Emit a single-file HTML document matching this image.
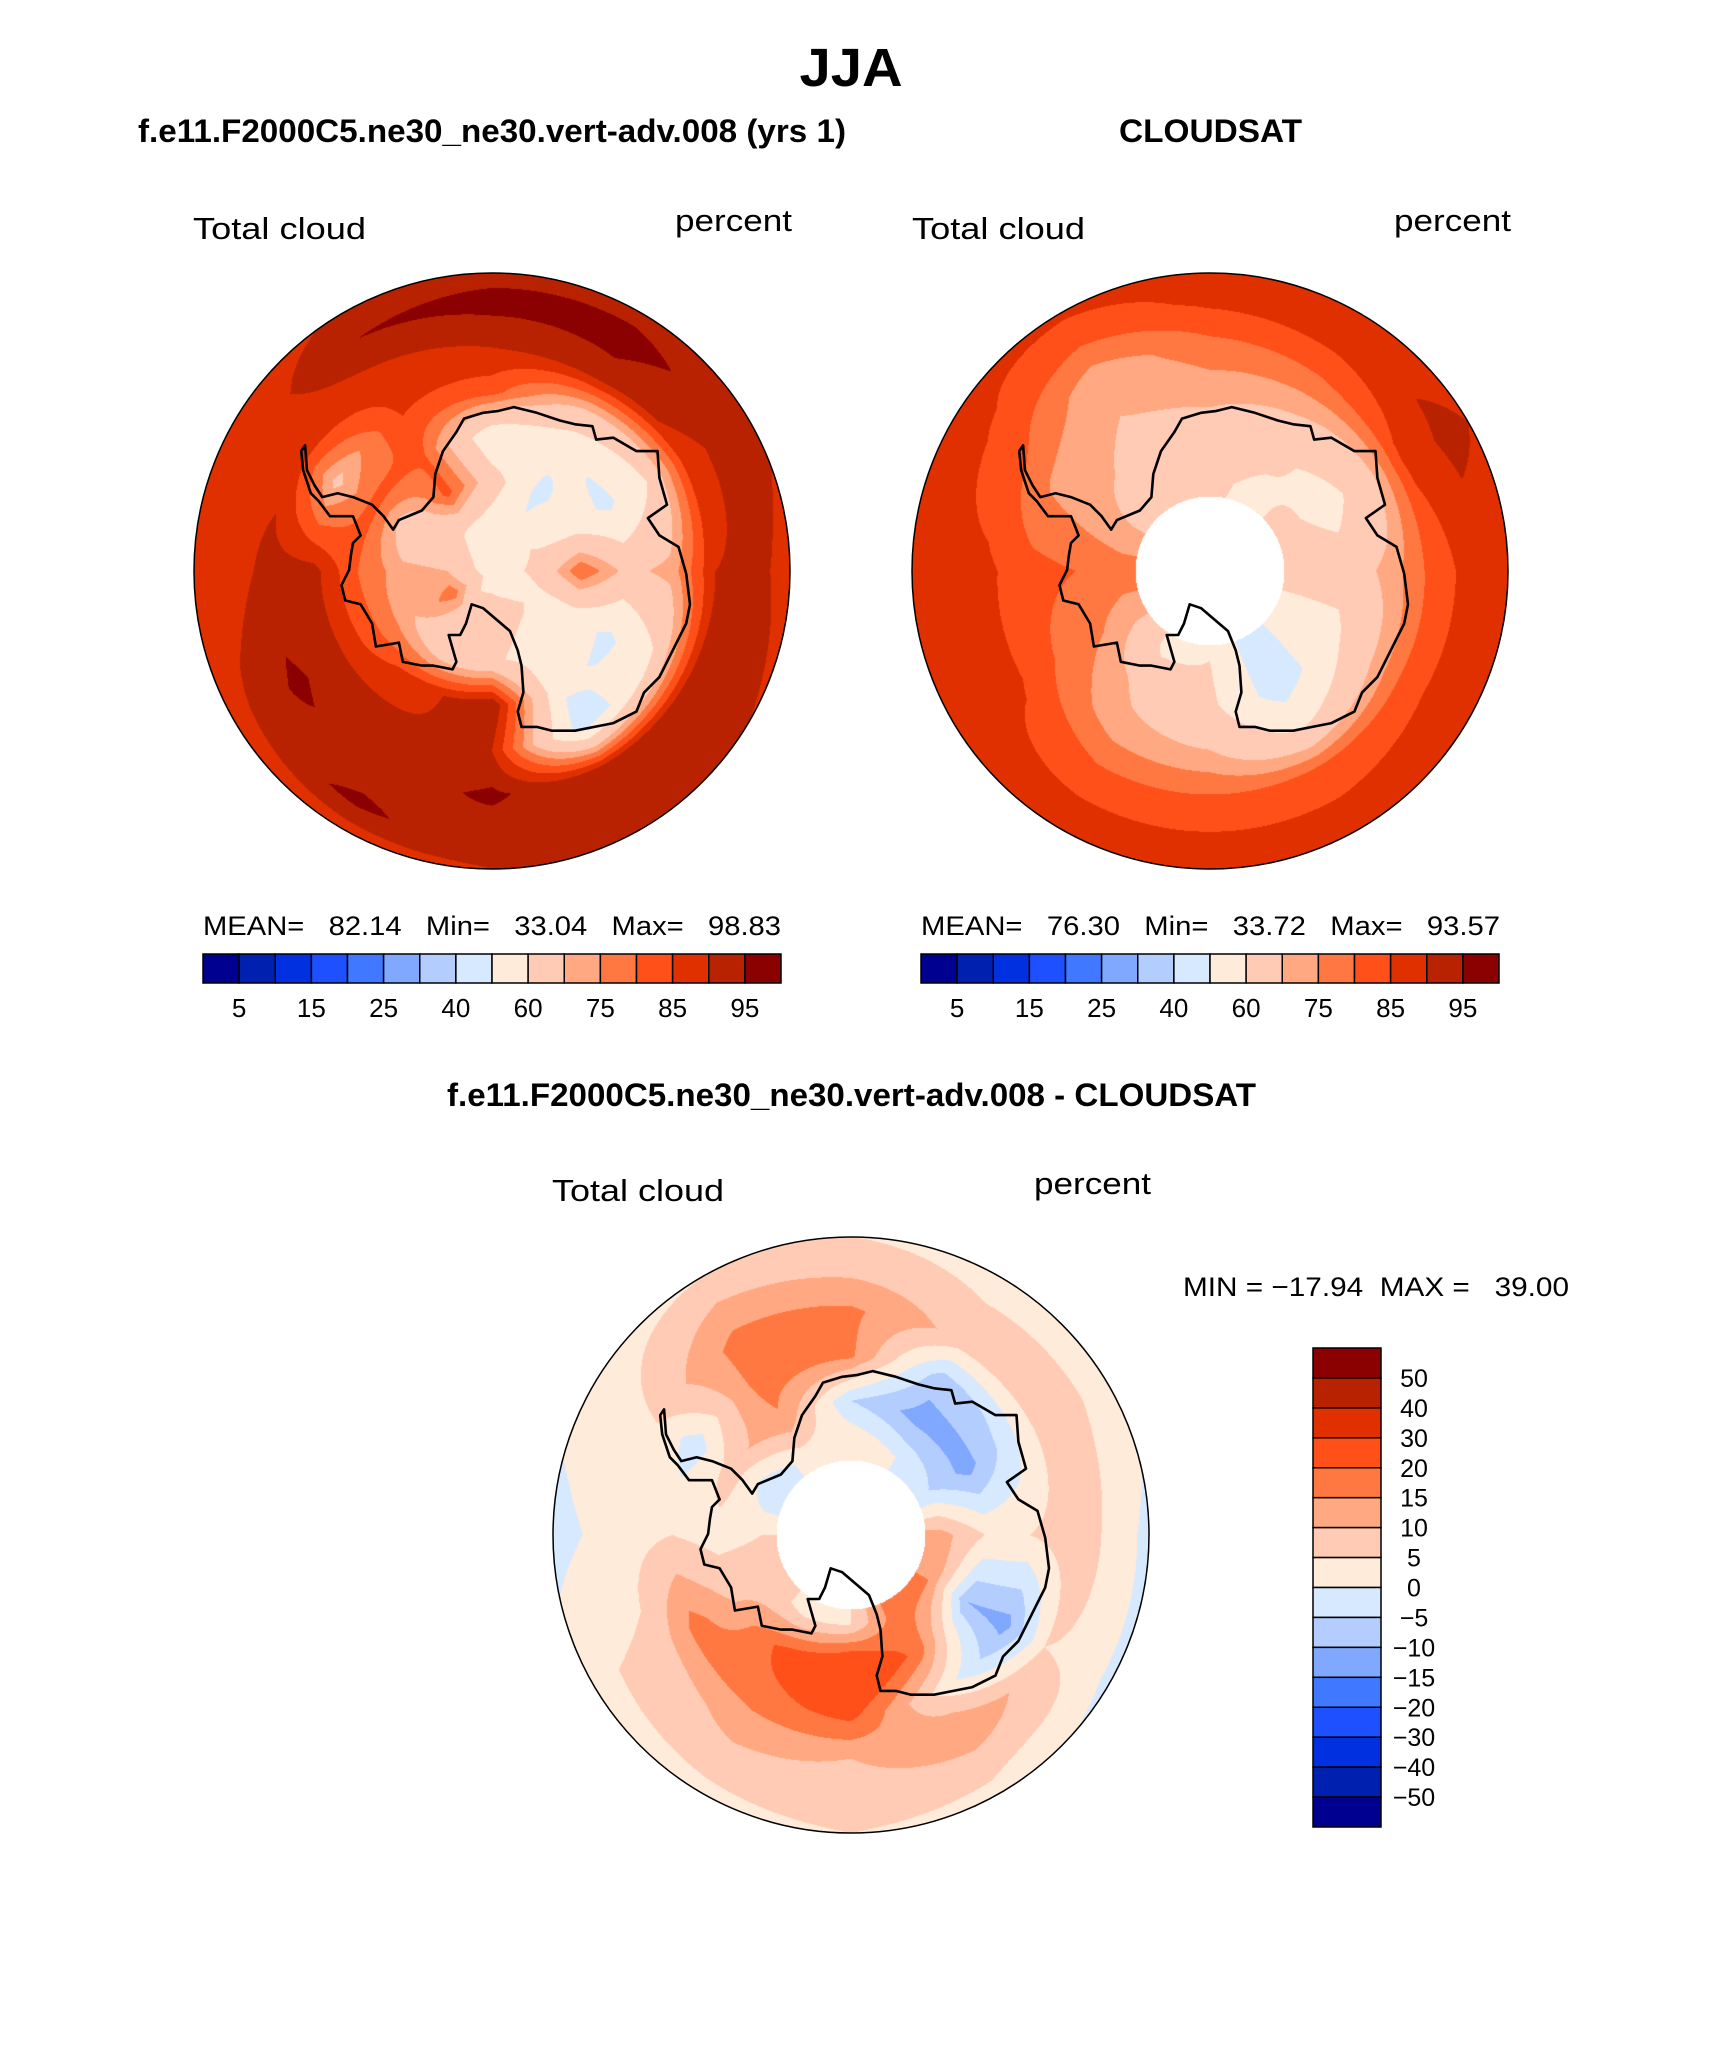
<!DOCTYPE html>
<html><head><meta charset="utf-8">
<style>
html,body{margin:0;padding:0;background:#fff;}
#wrap{position:relative;width:1710px;height:2061px;overflow:hidden;background:#fff;}
canvas{position:absolute;}
svg{position:absolute;left:0;top:0;}
text{font-family:"Liberation Sans",sans-serif;fill:#000;}
</style></head>
<body>
<div id="wrap">
<canvas id="mapModel" width="596" height="596" style="left:194px;top:273px"></canvas>
<canvas id="mapObs" width="596" height="596" style="left:912px;top:273px"></canvas>
<canvas id="mapDiff" width="596" height="596" style="left:553px;top:1237px"></canvas>
<svg id="ov" width="1710" height="2061">
<text x="851" y="86" font-size="54" font-weight="bold" text-anchor="middle" textLength="103" lengthAdjust="spacingAndGlyphs">JJA</text>
<text x="138" y="142" font-size="32" font-weight="bold" textLength="708" lengthAdjust="spacingAndGlyphs">f.e11.F2000C5.ne30_ne30.vert-adv.008 (yrs 1)</text>
<text x="1119" y="142" font-size="32" font-weight="bold" textLength="183" lengthAdjust="spacingAndGlyphs">CLOUDSAT</text>
<text x="447" y="1106" font-size="32" font-weight="bold" textLength="809" lengthAdjust="spacingAndGlyphs">f.e11.F2000C5.ne30_ne30.vert-adv.008 - CLOUDSAT</text>

<text x="193" y="239" font-size="31" textLength="173" lengthAdjust="spacingAndGlyphs">Total cloud</text>
<text x="675" y="231" font-size="31" textLength="117" lengthAdjust="spacingAndGlyphs">percent</text>
<text x="912" y="239" font-size="31" textLength="173" lengthAdjust="spacingAndGlyphs">Total cloud</text>
<text x="1394" y="231" font-size="31" textLength="117" lengthAdjust="spacingAndGlyphs">percent</text>
<text x="552" y="1201" font-size="31" textLength="172" lengthAdjust="spacingAndGlyphs">Total cloud</text>
<text x="1034" y="1194" font-size="31" textLength="117" lengthAdjust="spacingAndGlyphs">percent</text>

<text x="203" y="935" font-size="27" textLength="578" lengthAdjust="spacingAndGlyphs" xml:space="preserve">MEAN=   82.14   Min=   33.04   Max=   98.83</text>
<text x="921" y="935" font-size="27" textLength="579" lengthAdjust="spacingAndGlyphs" xml:space="preserve">MEAN=   76.30   Min=   33.72   Max=   93.57</text>
<text x="1183" y="1296" font-size="27" textLength="386" lengthAdjust="spacingAndGlyphs" xml:space="preserve">MIN = −17.94  MAX =   39.00</text>
<g id="cbars"></g>
<g id="coasts"></g>
</svg>
</div>
<script>
// ---- data ----
const colors=["#000090","#0020B0","#0030E0","#1E50FF","#4078FF","#80A8FF","#B4CDFF","#D7E9FF","#FFEBDA","#FFCBB4","#FFA882","#FF7841","#FF5019","#E03000","#B82200","#8B0000"];
const absLevels=[5,10,15,20,25,30,40,50,60,70,75,80,85,90,95];
const absTickLabels=["5","15","25","40","60","75","85","95"];
const diffLevels=[-50,-40,-30,-20,-15,-10,-5,0,5,10,15,20,30,40,50];
const diffTickLabels=["50","40","30","20","15","10","5","0","−5","−10","−15","−20","−30","−40","−50"];
const gridAngles=[0,30,60,90,120,150,180,210,240,270,300,330];
const gridRadii=[0,0.15,0.3,0.45,0.6,0.75,0.9,1.0];
const modelField=[
[55,55,65,52,82,90,97,93],
[55,52,48,52,65,93,97,93],
[55,60,55,48,60,88,92,91],
[55,62,80,68,72,90,91,88],
[55,58,55,48,58,90,92,90],
[55,62,55,52,45,90,92,90],
[55,65,62,95,90,96,92,90],
[55,65,62,88,91,92,96,87],
[55,78,70,82,92,96,92,86],
[55,70,72,80,92,92,86,86],
[55,65,62,82,68,88,87,86],
[55,58,82,80,85,88,95,91]];
const obsField=[
[60,60,62,66,72,78,86,88],
[58,58,58,62,70,80,88,88],
[62,62,62,56,65,86,91,90],
[65,65,65,65,72,82,88,88],
[55,55,55,56,68,82,88,88],
[45,45,45,45,58,80,86,88],
[60,60,60,62,70,80,86,87],
[58,58,58,68,72,80,86,87],
[72,72,72,76,80,86,87,88],
[78,78,78,80,82,86,87,87],
[70,70,70,72,74,82,86,86],
[62,62,62,68,70,72,82,86]];
const diffField=[
[5,5,5,-5,16,16,8,5],
[0,0,0,-12,-8,8,5,3],
[-5,-5,-5,-12,-3,8,5,3],
[12,12,12,5,5,8,3,-2],
[15,15,15,-10,-12,5,4,-2],
[18,18,18,18,3,15,6,4],
[5,5,5,30,22,10,6,5],
[3,3,3,22,18,12,6,4],
[8,8,8,10,17,6,5,3],
[5,5,5,3,5,3,0,-2],
[-5,-5,-5,8,-3,5,3,2],
[2,2,2,14,18,17,10,5]];
// coastline traced in a 778-radius frame centred at (783,783)
const coastX=[295,300,320,340,380,420,470,500,525,540,600,630,635,655,690,710,760,800,840,900,960,1000,1045,1055,1100,1160,1215,1220,1240,1190,1220,1270,1290,1300,1290,1270,1250,1220,1180,1160,1100,1050,1000,940,900,860,850,865,860,850,830,760,730,715,700,670,690,680,630,600,550,540,480,470,440,400,390,410,415,420,440,420,360,330,310,290,285];
const coastY=[455,520,560,590,580,590,610,640,675,650,625,590,530,470,420,385,370,365,355,370,390,400,405,440,435,470,470,540,610,645,690,720,790,870,920,960,1000,1060,1100,1150,1180,1190,1200,1200,1190,1190,1150,1100,1030,990,940,880,870,920,950,950,1020,1040,1030,1030,1020,970,980,920,870,860,820,780,740,710,690,640,640,600,580,520,470];
const holeRadius=0.25;

// ---- rendering ----
function hex(c){return [parseInt(c.substr(1,2),16),parseInt(c.substr(3,2),16),parseInt(c.substr(5,2),16)];}
const rgb=colors.map(hex);
function levelIndex(v,levels){let i=0;while(i<levels.length&&v>=levels[i])i++;return i;}
function sample(field,ang,r){
  const na=gridAngles.length;
  let a=ang/30; let i0=Math.floor(a)%na; let i1=(i0+1)%na; let fa=a-Math.floor(a);
  let j=0; while(j<gridRadii.length-2&&r>gridRadii[j+1])j++;
  let fr=(r-gridRadii[j])/(gridRadii[j+1]-gridRadii[j]); fr=Math.max(0,Math.min(1,fr));
  const v00=field[i0][j],v01=field[i0][j+1],v10=field[i1][j],v11=field[i1][j+1];
  return (v00*(1-fr)+v01*fr)*(1-fa)+(v10*(1-fr)+v11*fr)*fa;
}
function drawMap(id,field,levels,hole){
  const cv=document.getElementById(id),ctx=cv.getContext('2d');
  const W=cv.width,R=W/2,img=ctx.createImageData(W,W);
  for(let y=0;y<W;y++)for(let x=0;x<W;x++){
    const dx=(x+0.5-R)/R,dy=(y+0.5-R)/R,r=Math.sqrt(dx*dx+dy*dy);
    if(r>1||r<hole)continue;
    let ang=Math.atan2(dx,-dy)*180/Math.PI; if(ang<0)ang+=360;
    const c=rgb[levelIndex(sample(field,ang,r),levels)];
    const k=(y*W+x)*4; img.data[k]=c[0];img.data[k+1]=c[1];img.data[k+2]=c[2];img.data[k+3]=255;
  }
  ctx.putImageData(img,0,0);
}
drawMap('mapModel',modelField,absLevels,0);
drawMap('mapObs',obsField,absLevels,holeRadius);
drawMap('mapDiff',diffField,diffLevels,holeRadius);

const NS="http://www.w3.org/2000/svg";
const coasts=document.getElementById('coasts');
const centers=[[492,571,'model'],[1210,571,'cloudsat'],[851,1535,'diff']];
centers.forEach(c=>{
  const circ=document.createElementNS(NS,'circle');
  circ.setAttribute('cx',c[0]);circ.setAttribute('cy',c[1]);circ.setAttribute('r',298);
  circ.setAttribute('fill','none');circ.setAttribute('stroke','#000');circ.setAttribute('stroke-width','1.5');
  
  
  coasts.appendChild(circ);
  const p=document.createElementNS(NS,'polygon');
  const pts=coastX.map((x,i)=>{const nx=(x-783)/778,ny=(coastY[i]-783)/778;return (c[0]+nx*298).toFixed(1)+','+(c[1]+ny*298).toFixed(1);}).join(' ');
  p.setAttribute('points',pts);p.setAttribute('fill','none');p.setAttribute('stroke','#000');p.setAttribute('stroke-width','2.6');p.setAttribute('stroke-linejoin','round');
  
  
  coasts.appendChild(p);
});

const cb=document.getElementById('cbars');
function hbar(x0,x1,y0,y1,prefix){
  const w=(x1-x0)/colors.length;
  colors.forEach((col,i)=>{
    const r=document.createElementNS(NS,'rect');
    r.setAttribute('x',x0+i*w);r.setAttribute('y',y0);r.setAttribute('width',w);r.setAttribute('height',y1-y0);
    r.setAttribute('fill',col);r.setAttribute('stroke','#000');r.setAttribute('stroke-width','1.5');
    
    
    cb.appendChild(r);
  });
  absTickLabels.forEach((lab,k)=>{
    const t=document.createElementNS(NS,'text');
    t.setAttribute('x',x0+(2*k+1)*w);t.setAttribute('y',y1+34);t.setAttribute('font-size','26');t.setAttribute('text-anchor','middle');
    t.textContent=lab;
    
    
    cb.appendChild(t);
  });
}
hbar(203,781,954,983,'model');
hbar(921,1499,954,983,'cloudsat');
(function(){
  const x0=1313,x1=1381,y0=1348,y1=1827,h=(y1-y0)/colors.length;
  for(let i=0;i<colors.length;i++){
    const r=document.createElementNS(NS,'rect');
    r.setAttribute('x',x0);r.setAttribute('y',y0+i*h);r.setAttribute('width',x1-x0);r.setAttribute('height',h);
    r.setAttribute('fill',colors[colors.length-1-i]);r.setAttribute('stroke','#000');r.setAttribute('stroke-width','1.5');
    
    
    cb.appendChild(r);
  }
  diffTickLabels.forEach((lab,k)=>{
    const t=document.createElementNS(NS,'text');
    t.setAttribute('x',1414);t.setAttribute('y',y0+(k+1)*h+9);t.setAttribute('font-size','25');t.setAttribute('text-anchor','middle');
    t.textContent=lab;
    
    
    cb.appendChild(t);
  });
})();
</script>
</body></html>
